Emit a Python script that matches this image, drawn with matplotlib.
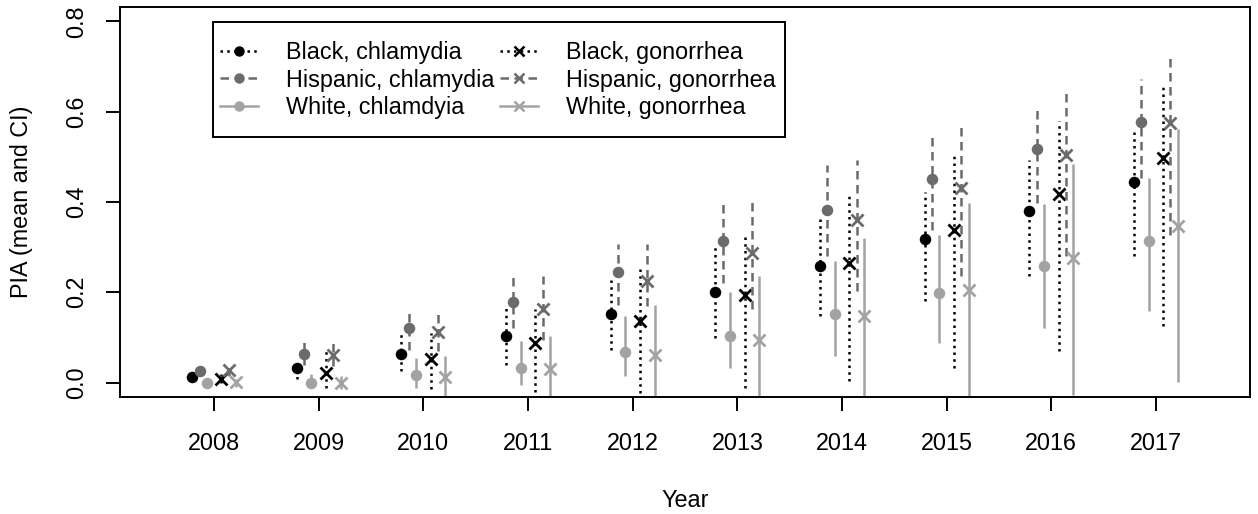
import matplotlib.pyplot as plt
from matplotlib.patches import Rectangle
import numpy as np

plt.rcParams['font.family'] = ['Liberation Sans', 'DejaVu Sans']

years = [2008, 2009, 2010, 2011, 2012, 2013, 2014, 2015, 2016, 2017]

# means and CI (low, high) for each group
black_chl = [0.012, 0.032, 0.064, 0.103, 0.151, 0.200, 0.258, 0.317, 0.381, 0.444]
black_chl_lo = [0.006, 0.007, 0.025, 0.040, 0.073, 0.099, 0.147, 0.180, 0.236, 0.280]
black_chl_hi = [0.020, 0.052, 0.110, 0.166, 0.232, 0.302, 0.365, 0.422, 0.494, 0.557]

hisp_chl = [0.025, 0.064, 0.120, 0.179, 0.245, 0.313, 0.382, 0.450, 0.517, 0.578]
hisp_chl_lo = [0.015, 0.040, 0.073, 0.121, 0.171, 0.221, 0.280, 0.339, 0.398, 0.454]
hisp_chl_hi = [0.035, 0.094, 0.166, 0.242, 0.306, 0.402, 0.483, 0.554, 0.613, 0.672]

white_chl = [0.000, 0.000, 0.016, 0.033, 0.067, 0.103, 0.151, 0.199, 0.258, 0.313]
white_chl_lo = [-0.005, -0.013, -0.011, -0.006, 0.014, 0.033, 0.058, 0.088, 0.121, 0.158]
white_chl_hi = [0.006, 0.018, 0.055, 0.093, 0.147, 0.200, 0.269, 0.326, 0.395, 0.454]

black_gon = [0.008, 0.021, 0.052, 0.088, 0.137, 0.195, 0.264, 0.338, 0.417, 0.498]
black_gon_lo = [0.000, -0.012, -0.015, -0.022, -0.023, -0.012, 0.003, 0.033, 0.069, 0.125]
black_gon_hi = [0.018, 0.073, 0.110, 0.162, 0.258, 0.324, 0.417, 0.506, 0.579, 0.657]

hisp_gon = [0.027, 0.060, 0.112, 0.163, 0.225, 0.288, 0.360, 0.432, 0.504, 0.574]
hisp_gon_lo = [0.015, 0.036, 0.070, 0.095, 0.169, 0.162, 0.202, 0.236, 0.280, 0.328]
hisp_gon_hi = [0.040, 0.092, 0.157, 0.236, 0.306, 0.406, 0.494, 0.568, 0.651, 0.725]

white_gon = [0.001, 0.000, 0.013, 0.029, 0.060, 0.095, 0.147, 0.206, 0.276, 0.347]
white_gon_lo = [-0.010, -0.015, -0.030, -0.030, -0.030, -0.030, -0.030, -0.030, -0.027, 0.001]
white_gon_hi = [0.008, 0.014, 0.058, 0.103, 0.171, 0.236, 0.321, 0.398, 0.485, 0.561]

labels = ['Black, chlamydia', 'Hispanic, chlamydia', 'White, chlamdyia',
          'Black, gonorrhea', 'Hispanic, gonorrhea', 'White, gonorrhea']

dark = '#6b6b6b'
light = '#a3a3a3'
dot = (0, (1.0, 1.7))
dash = (0, (3.4, 2.2))
series = [
    (black_chl, black_chl_lo, black_chl_hi, -0.21, 'black', dot, 'o'),
    (hisp_chl, hisp_chl_lo, hisp_chl_hi, -0.14, dark, dash, 'o'),
    (white_chl, white_chl_lo, white_chl_hi, -0.07, light, '-', 'o'),
    (black_gon, black_gon_lo, black_gon_hi, 0.07, 'black', dot, 'x'),
    (hisp_gon, hisp_gon_lo, hisp_gon_hi, 0.14, dark, dash, 'x'),
    (white_gon, white_gon_lo, white_gon_hi, 0.21, light, '-', 'x'),
]

fs = 16.8
W, H = 1258, 514
fig = plt.figure(figsize=(W/100, H/100), dpi=100)
ax = fig.add_axes([120/W, 1-397/H, 1130/W, 390/H])

x = np.array(years)
handles = []
for (m, lo, hi, off, col, ls, mk), lab in zip(series, labels):
    ax.vlines(x + off, lo, hi, colors=col, linestyles=ls, linewidth=1.8)
    if mk == 'o':
        ax.plot(x + off, m, 'o', color=col, markersize=8.3, markeredgewidth=0)
    else:
        ax.plot(x + off, m, 'x', color=col, markersize=9, markeredgewidth=2)
    h, = ax.plot([], [], color=col, linestyle=ls, linewidth=1.8, marker=mk,
                 markersize=7.5 if mk == 'o' else 7.5, markeredgewidth=0 if mk == 'o' else 1.8,
                 label=lab)
    handles.append(h)

ax.set_xlim(2007.1, 2017.9)
ax.set_ylim(-0.032, 0.832)
ax.set_xticks(years)
ax.set_xticklabels([str(y) for y in years])
ax.set_yticks([0.0, 0.2, 0.4, 0.6, 0.8])
ax.set_yticklabels(['0.0', '0.2', '0.4', '0.6', '0.8'], rotation=90, va='center')
ax.tick_params(axis='both', direction='out', length=10, width=1.4, labelsize=fs, pad=13)
ax.tick_params(axis='x', pad=15)
for s in ax.spines.values():
    s.set_linewidth(1.4)

ax.set_xlabel('Year', fontsize=fs)
ax.set_ylabel('PIA (mean and CI)', fontsize=fs)
ax.xaxis.set_label_coords(0.5, -0.235)
ax.yaxis.set_label_coords(-0.077, 0.5)

# legend without its own frame, box drawn separately (R style)
ax.add_patch(Rectangle((213/W, 1-137/H), 572/W, 115/H, transform=fig.transFigure,
                       facecolor='white', edgecolor='black', linewidth=1.4,
                       zorder=4, clip_on=False))
leg = ax.legend(handles=handles, ncol=2, loc='upper left',
                bbox_to_anchor=(220/W, 1-41/H), bbox_transform=fig.transFigure,
                borderaxespad=0, fontsize=fs, frameon=False,
                handlelength=1.63, handletextpad=1.2, columnspacing=0.25,
                labelspacing=0.2, borderpad=0, numpoints=1)
leg.set_zorder(5)

fig.savefig('out.png', dpi=100)
